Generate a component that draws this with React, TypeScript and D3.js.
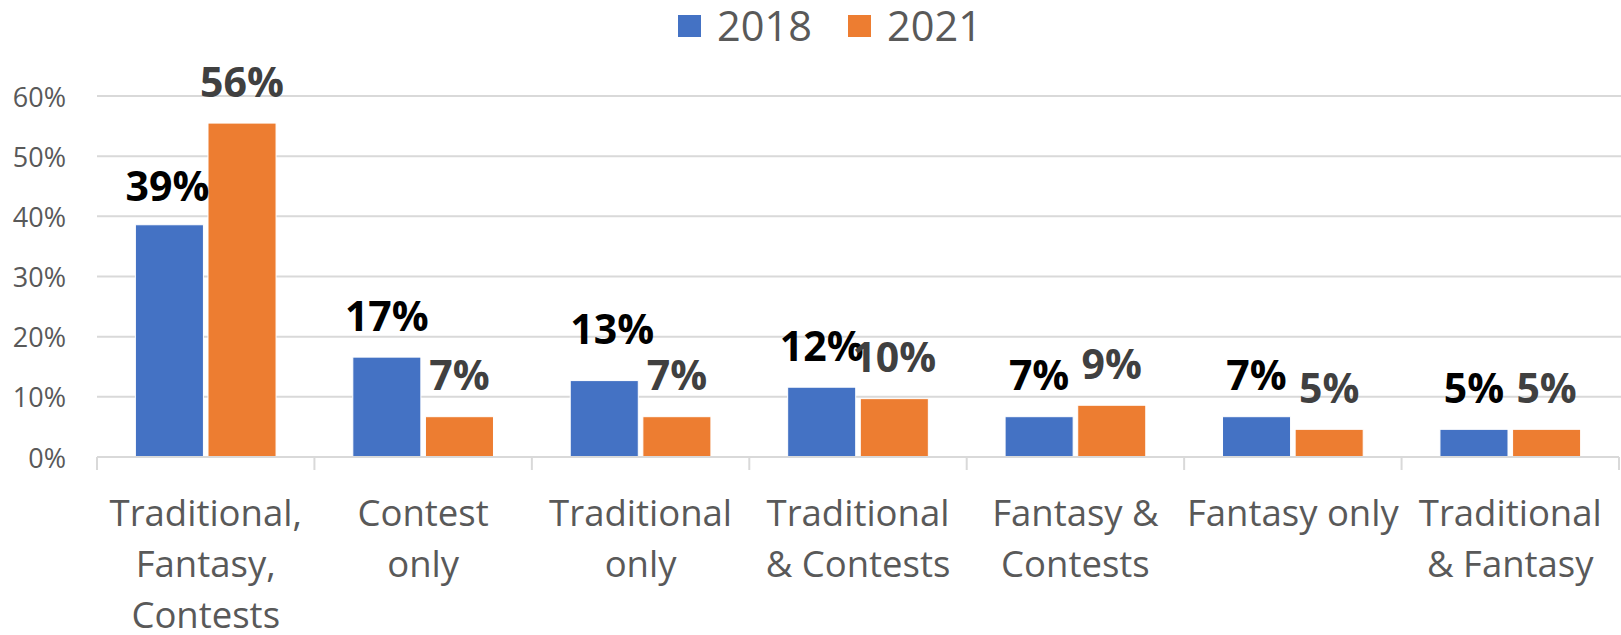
import React from "react";
import * as d3 from "d3";

const categories = [
  "Traditional,\nFantasy,\nContests",
  "Contest\nonly",
  "Traditional\nonly",
  "Traditional\n& Contests",
  "Fantasy &\nContests",
  "Fantasy only",
  "Traditional\n& Fantasy",
];
const seriesNames = ["2018", "2021"];
const values2018 = [38.6, 16.6, 12.7, 11.6, 6.7, 6.7, 4.6];
const values2021 = [55.5, 6.7, 6.7, 9.7, 8.6, 4.6, 4.6];
const yTicks = [0, 10, 20, 30, 40, 50, 60];

const W = 1621;
const H = 635;
const colors = ["#4472C4", "#ED7D31"];
const labelColors = ["#000000", "#404040"];
const gridColor = "#D9D9D9";
const axisText = "#595959";
const FONT = "'Open Sans', 'Noto Sans', sans-serif";
// manual label nudges (series, index) -> [dx, dy]
const nudges: Record<string, [number, number]> = {
  "0-0": [-2, 3],
  "0-2": [8, -10],
};

export default function App() {
  const x0 = d3.scaleBand<string>().domain(categories).range([97, 1619]).padding(0);
  const bw = x0.bandwidth();
  const half = bw * 0.3235;
  const x1 = d3.scaleBand<string>().domain(seriesNames).range([-half, half]).paddingInner(0.063);
  const y = d3.scaleLinear().domain([0, 60]).range([457, 96]);
  const series = [values2018, values2021];

  return (
    <svg width={W} height={H} style={{ position: "absolute", left: 0, top: 0, background: "#fff" }}>
      <rect x={0} y={0} width={W} height={H} fill="#fff" />
      {/* gridlines */}
      {yTicks.slice(1).map((t) => (
        <line key={t} x1={97} x2={W} y1={y(t)} y2={y(t)} stroke={gridColor} strokeWidth={2} />
      ))}
      {/* y tick labels */}
      {yTicks.map((t) => (
        <text key={t} x={66} y={y(t) + 10.5} textAnchor="end" fontFamily={FONT} fontSize={27} fill={axisText}>
          {t}%
        </text>
      ))}
      {/* bars */}
      {series.map((vals, s) =>
        vals.map((v, i) => {
          const cx = x0(categories[i])! + bw / 2 + x1(seriesNames[s])!;
          return (
            <rect
              key={`${s}-${i}`}
              x={cx}
              y={y(v)}
              width={x1.bandwidth()}
              height={y(0) - y(v)}
              fill={colors[s]}
              stroke="#fff"
              strokeWidth={1}
            />
          );
        })
      )}
      {/* x axis */}
      <line x1={97} x2={1619} y1={457} y2={457} stroke={gridColor} strokeWidth={2} />
      {d3.range(categories.length + 1).map((k) => {
        const xx = 97 + k * bw;
        return <line key={k} x1={xx} x2={xx} y1={457} y2={470} stroke={gridColor} strokeWidth={2} />;
      })}
      {/* data labels */}
      {series.map((vals, s) =>
        vals.map((v, i) => {
          const cx = x0(categories[i])! + bw / 2 + x1(seriesNames[s])! + x1.bandwidth() / 2;
          const n = nudges[`${s}-${i}`] || [0, 0];
          return (
            <text
              key={`l${s}-${i}`}
              x={cx + n[0]}
              y={y(v) - 26.5 + n[1]}
              textAnchor="middle"
              fontFamily={FONT}
              fontWeight={700}
              fontSize={41}
              fill={labelColors[s]}
            >
              {Math.round(v)}%
            </text>
          );
        })
      )}
      {/* category labels */}
      {categories.map((c, i) => {
        const cx = x0(c)! + bw / 2;
        return (
          <text key={c} textAnchor="middle" fontFamily={FONT} fontSize={36.5} fill={axisText}>
            {c.split("\n").map((line, j) => (
              <tspan key={j} x={cx} y={526 + j * 51}>
                {line}
              </tspan>
            ))}
          </text>
        );
      })}
      {/* legend */}
      {seriesNames.map((name, s) => {
        const lx = [678, 848][s];
        return (
          <g key={name}>
            <rect x={lx} y={15} width={23} height={22} fill={colors[s]} />
            <text x={lx + 39} y={41} fontFamily={FONT} fontSize={41.5} fill={axisText}>
              {name}
            </text>
          </g>
        );
      })}
    </svg>
  );
}
